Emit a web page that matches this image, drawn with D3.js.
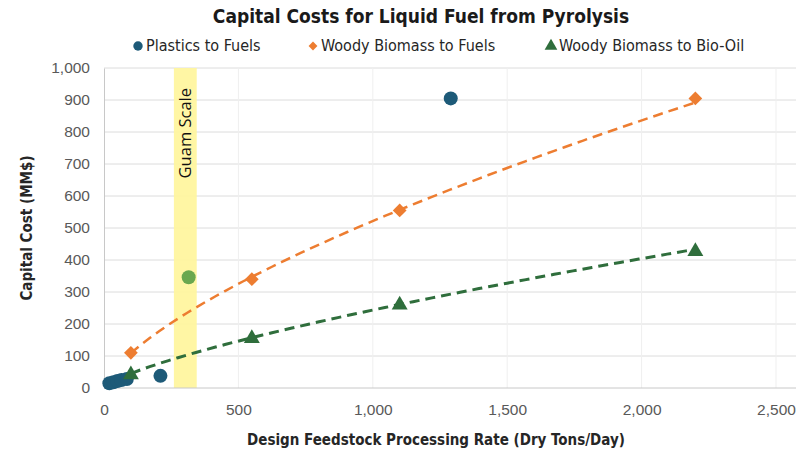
<!DOCTYPE html>
<html>
<head>
<meta charset="utf-8">
<script src="https://cdn.jsdelivr.net/npm/d3@7"></script>
<style>
  body { margin: 0; background: #fff; }
  text { font-family: "Liberation Sans Narrow", "DejaVu Sans Condensed", "Arial Narrow", sans-serif; }
</style>
</head>
<body>
<div id="chart"></div>
<script>
// 1: DATA
const plasticsX = [20, 35, 50, 65, 85, 210, 1290];
const plasticsY = [15, 18, 22, 25, 28, 38, 905];

const woodyFuelX = [100, 550, 1100, 2200];
const woodyFuelY = [110, 340, 555, 905];

const bioOilX = [100, 550, 1100, 2200];
const bioOilY = [45, 158, 263, 430];

const guamX = [315];
const guamY = [346];

const guamBand = [260, 345];

const xTicks = [0, 500, 1000, 1500, 2000, 2500];
const yTicks = [0, 100, 200, 300, 400, 500, 600, 700, 800, 900, 1000];

const legendNames = ["Plastics to Fuels", "Woody Biomass to Fuels", "Woody Biomass to Bio-Oil"];
const colors = ["#1d5a78", "#ED7D31", "#2f6e3c"];
const guamColor = "#6aa84f";

// 2: SETUP
const W = 808, H = 458;
const plot = { left: 104, right: 776, top: 68, bottom: 388, frameRight: 796 };

const svg = d3.select("#chart").append("svg")
    .attr("width", W)
    .attr("height", H);

const x = d3.scaleLinear().domain([0, 2500]).range([plot.left, plot.right]);
const y = d3.scaleLinear().domain([0, 1000]).range([plot.bottom, plot.top]);

// gridlines
svg.append("g").selectAll("line.h")
    .data(yTicks.slice(1))
    .join("line")
    .attr("x1", plot.left).attr("x2", plot.frameRight)
    .attr("y1", d => y(d)).attr("y2", d => y(d))
    .attr("stroke", "#dcdcdc").attr("stroke-width", 1);

svg.append("g").selectAll("line.v")
    .data(xTicks.slice(1))
    .join("line")
    .attr("x1", d => x(d)).attr("x2", d => x(d))
    .attr("y1", plot.top).attr("y2", plot.bottom)
    .attr("stroke", "#efefef").attr("stroke-width", 1);

// Guam band
svg.append("rect")
    .attr("x", x(guamBand[0]))
    .attr("width", x(guamBand[1]) - x(guamBand[0]))
    .attr("y", plot.top)
    .attr("height", plot.bottom - plot.top)
    .attr("fill", "#fff59a")
    .attr("opacity", 0.9);

svg.append("text")
    .attr("transform", `translate(${x((guamBand[0] + guamBand[1]) / 2) + 6},${plot.top + 20}) rotate(-90)`)
    .attr("text-anchor", "end")
    .style("font-family", "'Open Sans', sans-serif")
    .style("font-size", "16.5px")
    .attr("fill", "#111")
    .text("Guam Scale");

// axes
const xAxis = svg.append("g")
    .attr("transform", `translate(0,${plot.bottom})`)
    .call(d3.axisBottom(x).tickValues(xTicks).tickSize(0).tickPadding(16).tickFormat(d3.format(",")));
xAxis.select(".domain").attr("stroke", "#c8c8c8").attr("d", `M${plot.left},0H${plot.frameRight}`);
xAxis.selectAll("text")
    .style("font-family", "'Liberation Sans', Arial, sans-serif")
    .style("font-size", "15.5px").attr("fill", "#595959");

const yAxis = svg.append("g")
    .attr("transform", `translate(${plot.left},0)`)
    .call(d3.axisLeft(y).tickValues(yTicks).tickSize(0).tickPadding(14).tickFormat(d3.format(",")));
yAxis.select(".domain").attr("stroke", "#c8c8c8");
yAxis.selectAll("text")
    .style("font-family", "'Liberation Sans', Arial, sans-serif")
    .style("font-size", "15.5px").attr("fill", "#595959");

// 3: TRENDLINES (power fit computed from each series)
function powerFit(xs, ys) {
    const lx = xs.map(Math.log), ly = ys.map(Math.log);
    const mx = d3.mean(lx), my = d3.mean(ly);
    const b = d3.sum(lx, (v, i) => (v - mx) * (ly[i] - my)) / d3.sum(lx, v => (v - mx) ** 2);
    const a = Math.exp(my - b * mx);
    return v => a * Math.pow(v, b);
}

const line = d3.line().x(d => x(d[0])).y(d => y(d[1]));

[[woodyFuelX, woodyFuelY, colors[1], 2.5], [bioOilX, bioOilY, colors[2], 3]].forEach(([xs, ys, c, sw]) => {
    const f = powerFit(xs, ys);
    const [lo, hi] = d3.extent(xs);
    const pts = d3.range(0, 61).map(i => {
        const v = lo + (hi - lo) * i / 60;
        return [v, f(v)];
    });
    svg.append("path")
        .datum(pts)
        .attr("fill", "none")
        .attr("stroke", c)
        .attr("stroke-width", sw)
        .attr("stroke-dasharray", "10,6")
        .attr("d", line);
});

// 4: MARKERS
svg.append("g").selectAll("circle")
    .data(plasticsX.map((v, i) => [v, plasticsY[i]]))
    .join("circle")
    .attr("cx", d => x(d[0])).attr("cy", d => y(d[1]))
    .attr("r", 7)
    .attr("fill", colors[0]);

svg.append("g").selectAll("circle")
    .data(guamX.map((v, i) => [v, guamY[i]]))
    .join("circle")
    .attr("cx", d => x(d[0])).attr("cy", d => y(d[1]))
    .attr("r", 7)
    .attr("fill", guamColor);

const diamond = d3.symbol().type(d3.symbolDiamond2).size(120);
svg.append("g").selectAll("path")
    .data(woodyFuelX.map((v, i) => [v, woodyFuelY[i]]))
    .join("path")
    .attr("transform", d => `translate(${x(d[0])},${y(d[1])})`)
    .attr("d", diamond)
    .attr("fill", colors[1]);

const tri = d3.symbol().type(d3.symbolTriangle).size(110);
svg.append("g").selectAll("path")
    .data(bioOilX.map((v, i) => [v, bioOilY[i]]))
    .join("path")
    .attr("transform", d => `translate(${x(d[0])},${y(d[1]) + 1})`)
    .attr("d", tri)
    .attr("fill", colors[2]);

// 5: TITLE, LEGEND, AXIS LABELS
svg.append("text")
    .attr("x", 421).attr("y", 23)
    .attr("text-anchor", "middle")
    .style("font-size", "19px").style("font-weight", "bold")
    .attr("fill", "#1a1a1a")
    .text("Capital Costs for Liquid Fuel from Pyrolysis");

const legendX = [138, 313, 551];
const symbols = [d3.symbolCircle, d3.symbolDiamond2, d3.symbolTriangle];
legendNames.forEach((name, i) => {
    const g = svg.append("g").attr("transform", `translate(${legendX[i]},46)`);
    g.append("path")
        .attr("d", d3.symbol().type(symbols[i]).size(i === 1 ? 50 : 70))
        .attr("fill", colors[i]);
    g.append("text")
        .attr("x", 8).attr("y", 5)
        .style("font-size", "16px")
        .attr("fill", "#262626")
        .text(name);
});

svg.append("text")
    .attr("transform", `translate(32,${(plot.top + plot.bottom) / 2}) rotate(-90)`)
    .attr("text-anchor", "middle")
    .style("font-size", "15px").style("font-weight", "bold")
    .attr("fill", "#262626")
    .text("Capital Cost (MM$)");

svg.append("text")
    .attr("x", 436).attr("y", 445)
    .attr("text-anchor", "middle")
    .style("font-size", "15px").style("font-weight", "bold")
    .attr("fill", "#262626")
    .text("Design Feedstock Processing Rate (Dry Tons/Day)");
</script>
</body>
</html>
